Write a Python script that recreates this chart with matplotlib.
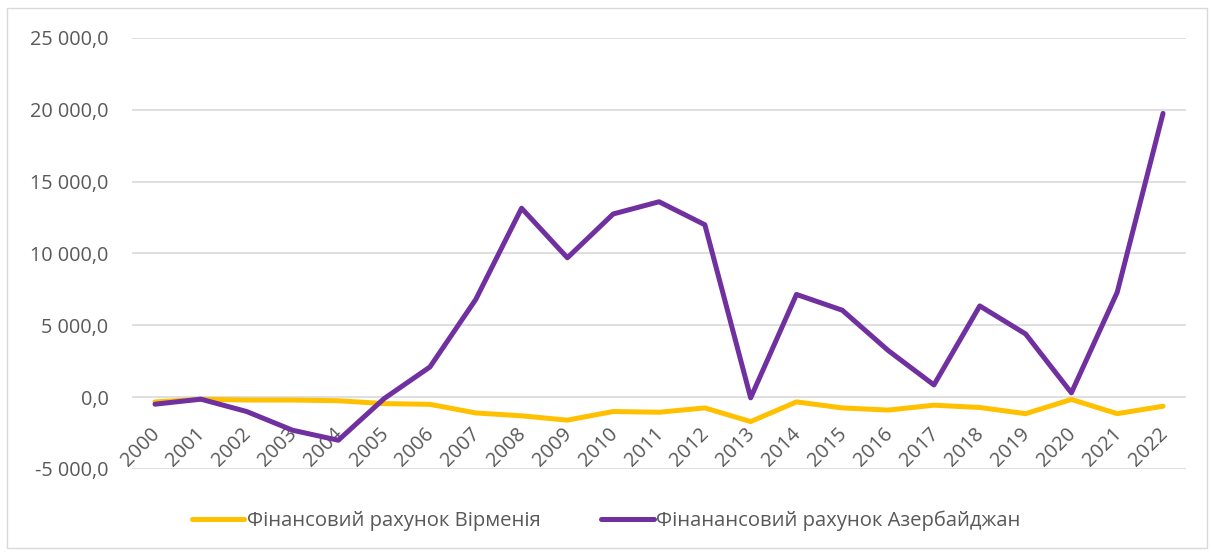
import matplotlib.pyplot as plt
from matplotlib.patches import Rectangle

# дані
years = [str(y) for y in range(2000, 2023)]
armenia = [-330, -150, -200, -200, -250, -450, -500, -1100, -1300, -1600, -1000, -1050,
           -750, -1700, -330, -750, -900, -560, -720, -1150, -160, -1150, -630]
azerbaijan = [-490, -140, -1000, -2300, -3000, -100, 2100, 6800, 13150, 9700, 12750, 13600,
              12000, -50, 7150, 6050, 3250, 850, 6350, 4400, 300, 7300, 19750]
yticks = [-5000, 0, 5000, 10000, 15000, 20000, 25000]

plt.rcParams['font.family'] = ['Open Sans', 'DejaVu Sans']
grey = '#595959'
fs = 14

fig = plt.figure(figsize=(12.12, 5.56), dpi=100)
ax = fig.add_axes([0.109, 0.1565, 0.8695, 0.7752])

x = list(range(len(years)))
ax.plot(x, armenia, color='#FFC000', lw=3.6, solid_capstyle='round', solid_joinstyle='round',
        label='Фінансовий рахунок Вірменія', zorder=4)
ax.plot(x, azerbaijan, color='#7030A0', lw=3.6, solid_capstyle='round', solid_joinstyle='round',
        label='Фінанансовий рахунок Азербайджан', zorder=4)

ax.set_xlim(-0.5, len(years) - 0.5)
ax.set_ylim(-5000, 25000)
ax.set_yticks(yticks)
ax.set_yticklabels([f"{v:,.1f}".replace(',', ' ').replace('.', ',') for v in yticks])
ax.tick_params(axis='y', length=0, pad=17, labelsize=fs + 0.3, labelcolor=grey)
ax.set_xticks([])
ax.grid(axis='y', color='#D9D9D9', lw=1.2)
ax.set_axisbelow(True)
for s in ax.spines.values():
    s.set_visible(False)

# підписи років біля нульової лінії (під лініями)
for i, yr in enumerate(years):
    ax.annotate(yr, (i, 0), xytext=(-4, -19), textcoords='offset points',
                rotation=45, ha='right', va='top', rotation_mode='anchor',
                fontsize=fs + 0.4, color=grey, zorder=2)

leg = fig.legend(loc='center', bbox_to_anchor=(0.5, 0.064), ncol=2, frameon=False,
                 fontsize=fs + 0.6, handlelength=2.6, handletextpad=0.1, columnspacing=3.0)
for t in leg.get_texts():
    t.set_color(grey)

fig.patches.append(Rectangle((0.006, 0.014), 0.99, 0.972, transform=fig.transFigure,
                             fill=False, edgecolor='#D9D9D9', lw=1))

plt.savefig('out.png', dpi=100)
